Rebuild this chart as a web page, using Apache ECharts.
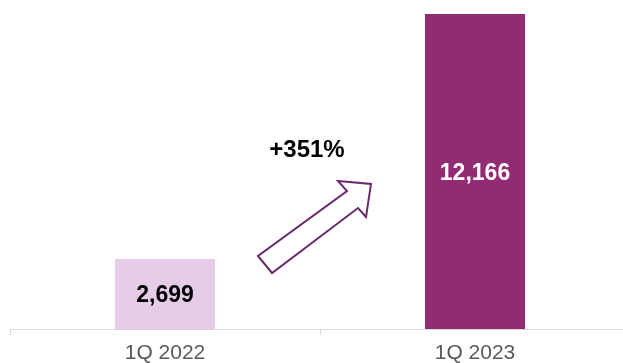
<!DOCTYPE html>
<html><head><meta charset="utf-8">
<script src="https://cdn.jsdelivr.net/npm/echarts@6/dist/echarts.min.js"></script>
<style>html,body{margin:0;padding:0;background:#fff}#c{width:623px;height:363px}</style>
</head><body><div id="c"></div>
<script>
const categories = ['1Q 2022', '1Q 2023'];
const values = [2699, 12166];
const barColors = ['#E6CCE9', '#922B73'];
const labelColors = ['#000000', '#FFFFFF'];
const growthLabel = '+351%';

const chart = echarts.init(document.getElementById('c'));
chart.setOption({
  animation: false,
  grid: { left: 10, width: 620, top: 14, bottom: 34, outerBoundsMode: 'none', containLabel: false },
  xAxis: {
    type: 'category', data: categories,
    axisLine: { lineStyle: { color: '#D9D9D9', width: 1 } },
    axisTick: { show: true, length: 6, lineStyle: { color: '#D9D9D9' } },
    axisLabel: { color: '#595959', fontSize: 21, fontFamily: 'Liberation Sans', margin: 14 }
  },
  yAxis: { type: 'value', min: 0, max: 12166, show: false, splitLine: { show: false } },
  series: [{
    type: 'bar', barWidth: 100,
    data: values.map((v, i) => ({
      value: v,
      itemStyle: { color: barColors[i] },
      label: { color: labelColors[i] }
    })),
    label: {
      show: true, position: 'inside', offset: [0, 2], fontSize: 23, fontWeight: 'bold',
      fontFamily: 'Liberation Sans',
      formatter: p => p.value.toLocaleString('en-US')
    }
  }],
  graphic: [
    {
      type: 'polygon',
      shape: { points: [[258,256],[272,273],[358,208],[366,217],[371,184],[338,181],[347,191]] },
      style: { fill: '#FFFFFF', stroke: '#6A2C6E', lineWidth: 2 }
    },
    {
      type: 'text', x: 307, y: 150,
      style: { text: growthLabel, fill: '#000', font: 'bold 24px "Liberation Sans"', align: 'center', verticalAlign: 'middle' }
    }
  ]
});
</script></body></html>
